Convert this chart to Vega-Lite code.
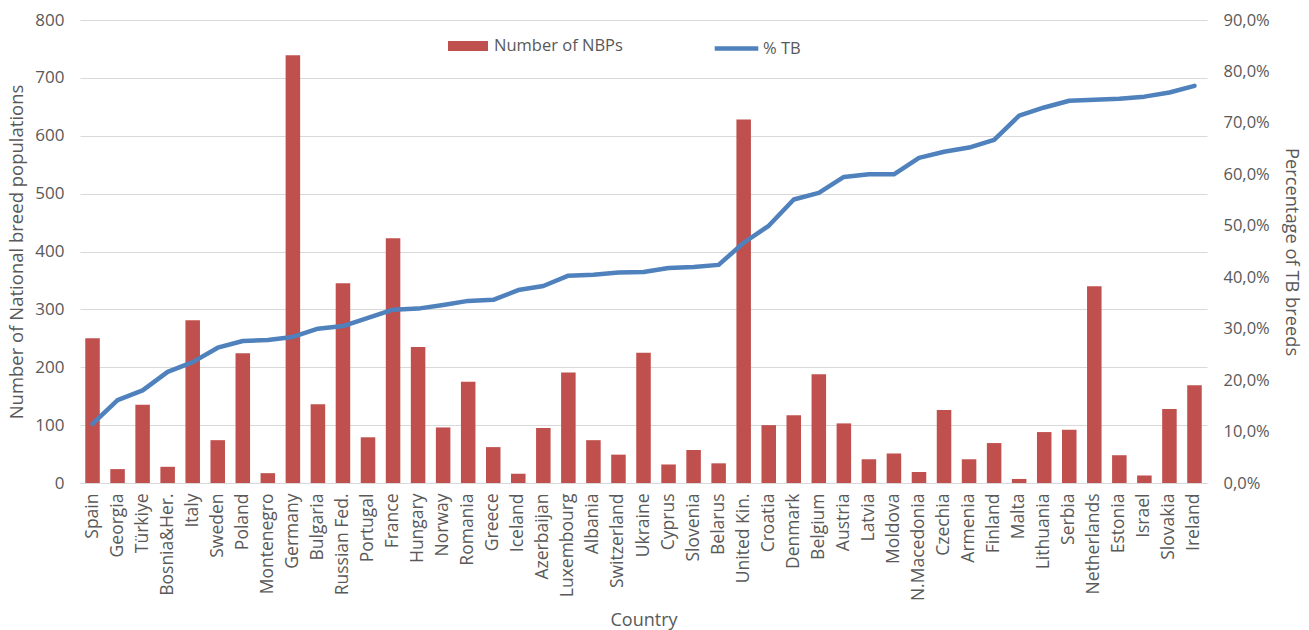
{
  "$schema": "https://vega.github.io/schema/vega-lite/v6.json",
  "width": 1127,
  "height": 463,
  "autosize": {"type": "none"},
  "padding": {"left": 80, "top": 20, "right": 102, "bottom": 147},
  "background": "white",
  "config": {
    "font": "Open Sans",
    "view": {"stroke": null},
    "axis": {"labelColor": "#595959", "titleColor": "#595959", "labelFont": "Open Sans", "titleFont": "Open Sans", "titleFontWeight": "normal"}
  },
  "data": {
    "values": [
      {"country": "Spain", "nbp": 250, "tb": 0.115},
      {"country": "Georgia", "nbp": 24, "tb": 0.161},
      {"country": "Türkiye", "nbp": 135, "tb": 0.180},
      {"country": "Bosnia&Her.", "nbp": 28, "tb": 0.216},
      {"country": "Italy", "nbp": 281, "tb": 0.235},
      {"country": "Sweden", "nbp": 74, "tb": 0.263},
      {"country": "Poland", "nbp": 224, "tb": 0.276},
      {"country": "Montenegro", "nbp": 17, "tb": 0.278},
      {"country": "Germany", "nbp": 739, "tb": 0.284},
      {"country": "Bulgaria", "nbp": 136, "tb": 0.300},
      {"country": "Russian Fed.", "nbp": 345, "tb": 0.305},
      {"country": "Portugal", "nbp": 79, "tb": 0.321},
      {"country": "France", "nbp": 423, "tb": 0.337},
      {"country": "Hungary", "nbp": 235, "tb": 0.339},
      {"country": "Norway", "nbp": 96, "tb": 0.346},
      {"country": "Romania", "nbp": 175, "tb": 0.354},
      {"country": "Greece", "nbp": 62, "tb": 0.356},
      {"country": "Iceland", "nbp": 16, "tb": 0.375},
      {"country": "Azerbaijan", "nbp": 95, "tb": 0.383},
      {"country": "Luxembourg", "nbp": 191, "tb": 0.403},
      {"country": "Albania", "nbp": 74, "tb": 0.405},
      {"country": "Switzerland", "nbp": 49, "tb": 0.409},
      {"country": "Ukraine", "nbp": 225, "tb": 0.410},
      {"country": "Cyprus", "nbp": 32, "tb": 0.418},
      {"country": "Slovenia", "nbp": 57, "tb": 0.420},
      {"country": "Belarus", "nbp": 34, "tb": 0.424},
      {"country": "United Kin.", "nbp": 628, "tb": 0.467},
      {"country": "Croatia", "nbp": 100, "tb": 0.500},
      {"country": "Denmark", "nbp": 117, "tb": 0.551},
      {"country": "Belgium", "nbp": 188, "tb": 0.564},
      {"country": "Austria", "nbp": 103, "tb": 0.595},
      {"country": "Latvia", "nbp": 41, "tb": 0.600},
      {"country": "Moldova", "nbp": 51, "tb": 0.600},
      {"country": "N.Macedonia", "nbp": 19, "tb": 0.632},
      {"country": "Czechia", "nbp": 126, "tb": 0.644},
      {"country": "Armenia", "nbp": 41, "tb": 0.652},
      {"country": "Finland", "nbp": 69, "tb": 0.667},
      {"country": "Malta", "nbp": 7, "tb": 0.714},
      {"country": "Lithuania", "nbp": 88, "tb": 0.730},
      {"country": "Serbia", "nbp": 92, "tb": 0.743},
      {"country": "Netherlands", "nbp": 340, "tb": 0.745},
      {"country": "Estonia", "nbp": 48, "tb": 0.747},
      {"country": "Israel", "nbp": 13, "tb": 0.751},
      {"country": "Slovakia", "nbp": 128, "tb": 0.759},
      {"country": "Ireland", "nbp": 169, "tb": 0.772}
    ]
  },
  "encoding": {
    "x": {
      "field": "country",
      "type": "nominal",
      "sort": null,
      "scale": {"paddingInner": 0.42, "paddingOuter": 0.21},
      "axis": {
        "title": "Country",
        "labelAngle": -90,
        "labelFontSize": 17.5,
        "titleFontSize": 18,
        "ticks": false,
        "domain": true,
        "domainColor": "#d9d9d9",
        "labelPadding": 10,
        "titlePadding": 11
      }
    }
  },
  "layer": [
    {
      "mark": {"type": "bar"},
      "encoding": {
        "y": {
          "field": "nbp",
          "type": "quantitative",
          "scale": {"domain": [0, 800]},
          "axis": {
            "title": "Number of National breed populations",
            "values": [0, 100, 200, 300, 400, 500, 600, 700, 800],
            "grid": true,
            "gridColor": "#d9d9d9",
            "gridWidth": 1,
            "domain": false,
            "ticks": false,
            "labelFontSize": 17,
            "titleFontSize": 18.5,
            "labelPadding": 16,
            "titlePadding": 8
          }
        },
        "fill": {
          "datum": "Number of NBPs",
          "scale": {"range": ["#C0504D"]},
          "legend": {
            "title": null,
            "orient": "none",
            "legendX": 368,
            "legendY": 6,
            "symbolType": "M-1,-0.25H1V0.25H-1Z",
            "symbolSize": 1600,
            "labelFontSize": 16.5,
            "labelOffset": 6,
            "labelColor": "#595959",
            "labelFont": "Open Sans",
            "symbolStrokeWidth": 0
          }
        }
      }
    },
    {
      "mark": {"type": "line", "strokeWidth": 4.5, "strokeCap": "round", "strokeJoin": "round"},
      "encoding": {
        "y": {
          "field": "tb",
          "type": "quantitative",
          "scale": {"domain": [0, 0.9]},
          "axis": {
            "title": "Percentage of TB breeds",
            "orient": "right",
            "values": [0, 0.1, 0.2, 0.3, 0.4, 0.5, 0.6, 0.7, 0.8, 0.9],
            "labelExpr": "replace(format(datum.value, '.1%'), '.', ',')",
            "grid": false,
            "domain": false,
            "ticks": false,
            "labelFontSize": 16.5,
            "titleFontSize": 18.3,
            "labelPadding": 16,
            "titlePadding": 12
          }
        },
        "stroke": {
          "datum": "% TB",
          "scale": {"range": ["#4F81BD"]},
          "legend": {
            "title": null,
            "orient": "none",
            "legendX": 632,
            "legendY": 4,
            "symbolType": "stroke",
            "symbolSize": 1900,
            "symbolStrokeWidth": 4.5,
            "labelFontSize": 16.5,
            "labelOffset": 2,
            "labelColor": "#595959",
            "labelFont": "Open Sans"
          }
        }
      }
    }
  ],
  "resolve": {"scale": {"y": "independent"}}
}
